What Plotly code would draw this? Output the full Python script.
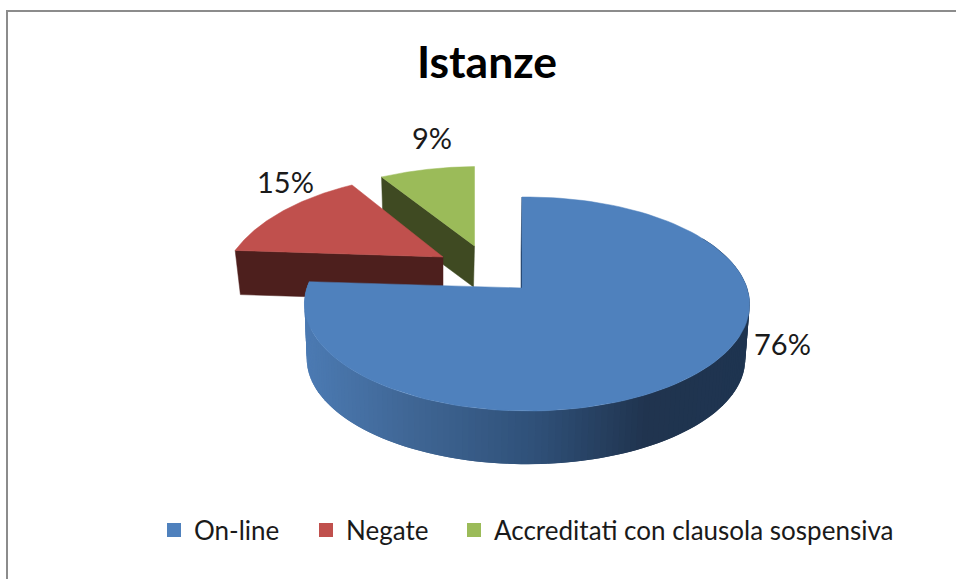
import numpy as np
import plotly.graph_objects as go

categories = ["On-line", "Negate", "Accreditati con clausola sospensiva"]
values = [76, 15, 9]
title_text = "Istanze"

W, H = 956, 579
FONT = "Lato"
TEXT = "#1a1a1a"
TOP = ["#4f81bd", "#c0504d", "#9bbb59"]
SIDE = [None, "#4d1f1d", "#3f4a22"]

# projection of each slice: apex, half-axes, perspective terms, extrusion
GEOM = [
    dict(ax=522, ay=288, b=220.0, a=104.6, k=-0.1495, m=-0.0224, bx=521, by=343, s=0.985),
    dict(ax=443, ay=257, b=217.0, a=109.0, k=-0.315, m=-0.0224, bx=443, by=301, s=0.975),
    dict(ax=474.5, ay=246, b=222.0, a=104.6, k=-0.317, m=-0.0224, bx=473.5, by=287, s=0.975),
]

total = sum(values)
edges = np.concatenate([[0], np.cumsum(values)]) / total * 360.0


def project(theta, g, bottom=False):
    t = np.radians(theta)
    u, v = np.sin(t), -np.cos(t)
    d = 1 + g["k"] * v + g["m"] * u
    s = g["s"] if bottom else 1.0
    ox, oy = (g["bx"], g["by"]) if bottom else (g["ax"], g["ay"])
    return ox + s * g["b"] * u / d, oy + s * g["a"] * v / d


def poly(fig, xs, ys, color, lw=0.5):
    fig.add_trace(go.Scatter(
        x=list(xs), y=list(ys), mode="lines", fill="toself", fillcolor=color,
        line=dict(color=color, width=lw), hoverinfo="skip", showlegend=False,
    ))


def sector(fig, i):
    g = GEOM[i]
    th = np.linspace(edges[i], edges[i + 1], 120)
    x, y = project(th, g)
    poly(fig, [g["ax"], *x, g["ax"]], [g["ay"], *y, g["ay"]], TOP[i])


def edge_wall(fig, i, theta, color):
    g = GEOM[i]
    x1, y1 = project(theta, g)
    x2, y2 = project(theta, g, bottom=True)
    poly(fig, [g["ax"], x1, x2, g["bx"], g["ax"]], [g["ay"], y1, y2, g["by"], g["ay"]], color)


fig = go.Figure()

# green slice, then red, then the large blue one in front
edge_wall(fig, 2, edges[2], SIDE[2])
sector(fig, 2)
edge_wall(fig, 1, edges[1], SIDE[1])
sector(fig, 1)

edge_wall(fig, 0, edges[0], "#1f3a5f")
g0 = GEOM[0]
wall_x = [300, 400, 530, 640, 750]
wall_rgb = np.array([[76, 123, 180], [64, 103, 150], [47, 80, 120], [32, 52, 79], [30, 52, 80]])
# drawn from the far right round to the left, each strip overlapping the one before it
steps = np.append(np.arange(60, edges[1], 1.5), edges[1])
for a0, a1 in zip(steps[:-1], steps[1:]):
    a0x = max(a0 - 1.5, 60)
    xb, yb = project(a1, g0)
    xm = (project(a0, g0)[0] + xb) / 2
    col = [int(round(np.interp(xm, wall_x, wall_rgb[:, c]))) for c in range(3)]
    mid = np.linspace(a0x, a1, 4)
    xt, yt = project(mid, g0)
    xu, yu = project(mid[::-1], g0, bottom=True)
    poly(fig, [*xt, *xu, xt[0]], [*yt, *yu, yt[0]], f"rgb({col[0]},{col[1]},{col[2]})", lw=0)
sector(fig, 0)

# legend entries
legend_widths = [107, 103, 400]
for name, color, lw in zip(categories, TOP, legend_widths):
    fig.add_trace(go.Scatter(
        x=[None], y=[None], mode="markers", name=name, legendwidth=lw,
        marker=dict(symbol="square", size=14, color=color),
    ))

label_pos = [(782, 343), (285, 181), (432, 137)]
annotations = [
    dict(x=px, y=py, text=f"{round(val / total * 100)}%", showarrow=False, xref="x", yref="y",
         font=dict(family=FONT, size=29, color=TEXT))
    for val, (px, py) in zip(values, label_pos)
]

fig.update_layout(
    width=W, height=H, autosize=False,
    margin=dict(l=0, r=0, t=0, b=0),
    paper_bgcolor="white", plot_bgcolor="white",
    xaxis=dict(range=[0, W], visible=False, fixedrange=True),
    yaxis=dict(range=[H, 0], visible=False, fixedrange=True),
    title=dict(text=title_text, x=487 / W, xanchor="center", y=1 - 62 / H, yanchor="middle",
               font=dict(family=FONT, size=44.5, color="#000000", weight=700)),
    legend=dict(orientation="h", x=154 / W, xanchor="left", y=1 - 530 / H, yanchor="middle",
                font=dict(family=FONT, size=26, color=TEXT), bgcolor="rgba(0,0,0,0)",
                entrywidthmode="pixels", itemclick=False, itemdoubleclick=False),
    annotations=annotations,
    shapes=[
        dict(type="line", xref="x", yref="y", x0=7, x1=W, y0=11, y1=11, line=dict(color="#8c8c8c", width=2)),
        dict(type="line", xref="x", yref="y", x0=7, x1=7, y0=10, y1=H, line=dict(color="#8c8c8c", width=2)),
    ],
)

fig.write_html("out.html", config=dict(displayModeBar=False),
               post_script="document.body.style.margin='0';")
